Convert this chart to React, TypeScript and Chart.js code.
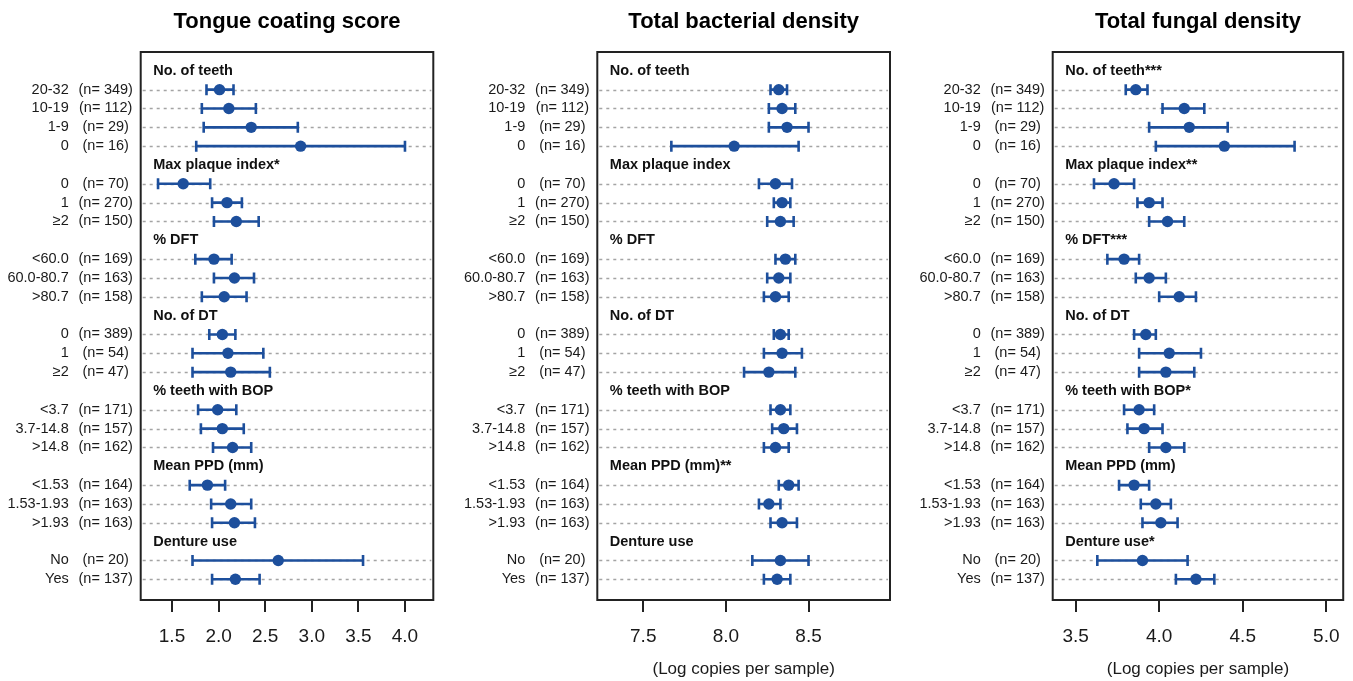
import React, { useEffect, useRef } from 'react';
import { Chart, registerables } from 'chart.js';

Chart.register(...registerables);

// ---------- data ----------
const groupSizes = [4, 3, 3, 3, 3, 3, 2];

const categories = [
  '20-32', '10-19', '1-9', '0',
  '0', '1', '≥2',
  '<60.0', '60.0-80.7', '>80.7',
  '0', '1', '≥2',
  '<3.7', '3.7-14.8', '>14.8',
  '<1.53', '1.53-1.93', '>1.93',
  'No', 'Yes',
];

const counts = [
  349, 112, 29, 16,
  70, 270, 150,
  169, 163, 158,
  389, 54, 47,
  171, 157, 162,
  164, 163, 163,
  20, 137,
];

const tongueHeaders = ['No. of teeth', 'Max plaque index*', '% DFT', 'No. of DT', '% teeth with BOP', 'Mean PPD (mm)', 'Denture use'];
const tongueMean = [2.01, 2.11, 2.35, 2.88, 1.62, 2.09, 2.19, 1.95, 2.17, 2.06, 2.04, 2.10, 2.13, 1.99, 2.04, 2.15, 1.88, 2.13, 2.17, 2.64, 2.18];
const tongueLower = [1.87, 1.82, 1.84, 1.76, 1.35, 1.93, 1.95, 1.75, 1.95, 1.82, 1.90, 1.72, 1.72, 1.78, 1.81, 1.94, 1.69, 1.92, 1.93, 1.72, 1.93];
const tongueUpper = [2.16, 2.40, 2.85, 4.00, 1.91, 2.25, 2.43, 2.14, 2.38, 2.30, 2.18, 2.48, 2.55, 2.19, 2.27, 2.35, 2.07, 2.35, 2.39, 3.55, 2.44];
const tongueTicks = [1.5, 2.0, 2.5, 3.0, 3.5, 4.0];

const bactHeaders = ['No. of teeth', 'Max plaque index', '% DFT', 'No. of DT', '% teeth with BOP', 'Mean PPD (mm)**', 'Denture use'];
const bactMean = [8.32, 8.34, 8.37, 8.05, 8.30, 8.34, 8.33, 8.36, 8.32, 8.30, 8.33, 8.34, 8.26, 8.33, 8.35, 8.30, 8.38, 8.26, 8.34, 8.33, 8.31];
const bactLower = [8.27, 8.26, 8.26, 7.67, 8.20, 8.29, 8.25, 8.30, 8.25, 8.23, 8.29, 8.23, 8.11, 8.27, 8.28, 8.23, 8.32, 8.20, 8.27, 8.16, 8.23];
const bactUpper = [8.37, 8.42, 8.50, 8.44, 8.40, 8.39, 8.41, 8.42, 8.39, 8.38, 8.38, 8.46, 8.42, 8.39, 8.43, 8.38, 8.44, 8.33, 8.43, 8.50, 8.39];
const bactTicks = [7.5, 8.0, 8.5];

const fungHeaders = ['No. of teeth***', 'Max plaque index**', '% DFT***', 'No. of DT', '% teeth with BOP*', 'Mean PPD (mm)', 'Denture use*'];
const fungMean = [3.86, 4.15, 4.18, 4.39, 3.73, 3.94, 4.05, 3.79, 3.94, 4.12, 3.92, 4.06, 4.04, 3.88, 3.91, 4.04, 3.85, 3.98, 4.01, 3.90, 4.22];
const fungLower = [3.80, 4.02, 3.94, 3.98, 3.61, 3.87, 3.94, 3.69, 3.86, 4.00, 3.85, 3.88, 3.88, 3.79, 3.81, 3.94, 3.76, 3.89, 3.90, 3.63, 4.10];
const fungUpper = [3.93, 4.27, 4.41, 4.81, 3.85, 4.02, 4.15, 3.88, 4.04, 4.22, 3.98, 4.25, 4.21, 3.97, 4.02, 4.15, 3.94, 4.07, 4.11, 4.17, 4.33];
const fungTicks = [3.5, 4.0, 4.5, 5.0];

const panelTitles = ['Tongue coating score', 'Total bacterial density', 'Total fungal density'];
const axisTitles = ['', '(Log copies per sample)', '(Log copies per sample)'];

// ---------- layout / style ----------
const BLUE = '#1d4f9c';
const INK = '#222222';
const FONT = '"Liberation Sans", Arial, Helvetica, sans-serif';

// slot indices: each group has a header slot followed by its rows
const headerSlots: number[] = [];
const rowSlots: number[] = [];
{
  let s = 0;
  groupSizes.forEach((n) => {
    headerSlots.push(s);
    s += 1;
    for (let k = 0; k < n; k++) {
      rowSlots.push(s);
      s += 1;
    }
  });
}

type PanelDef = {
  title: string;
  axisTitle: string;
  headers: string[];
  mean: number[];
  lower: number[];
  upper: number[];
  ticks: number[];
  xmin: number;
  xmax: number;
  canvasLeft: number;
  canvasWidth: number;
  padLeft: number;
  padRight: number;
};

const panels: PanelDef[] = [
  {
    title: panelTitles[0], axisTitle: axisTitles[0], headers: tongueHeaders,
    mean: tongueMean, lower: tongueLower, upper: tongueUpper, ticks: tongueTicks,
    xmin: 1.164, xmax: 4.304, canvasLeft: 0, canvasWidth: 440, padLeft: 140.7, padRight: 6.7,
  },
  {
    title: panelTitles[1], axisTitle: axisTitles[1], headers: bactHeaders,
    mean: bactMean, lower: bactLower, upper: bactUpper, ticks: bactTicks,
    xmin: 7.222, xmax: 8.993, canvasLeft: 440, canvasWidth: 460, padLeft: 157.3, padRight: 10,
  },
  {
    title: panelTitles[2], axisTitle: axisTitles[2], headers: fungHeaders,
    mean: fungMean, lower: fungLower, upper: fungUpper, ticks: fungTicks,
    xmin: 3.363, xmax: 5.101, canvasLeft: 900, canvasWidth: 453, padLeft: 152.7, padRight: 8,
  },
];

function makeForestPlugin(p: PanelDef) {
  return {
    id: 'forest',
    beforeDatasetsDraw(chart: any) {
      const { ctx, chartArea: a, scales } = chart;
      const x = scales.x;
      const y = scales.y;
      ctx.save();
      // dashed row guides
      ctx.strokeStyle = '#a4a4a4';
      ctx.lineWidth = 1.3;
      ctx.setLineDash([3, 4]);
      rowSlots.forEach((s) => {
        const py = Math.round(y.getPixelForValue(s)) + 0.5;
        ctx.beginPath();
        ctx.moveTo(a.left + 2, py);
        ctx.lineTo(a.right - 2, py);
        ctx.stroke();
      });
      ctx.setLineDash([]);
      // confidence intervals
      ctx.strokeStyle = BLUE;
      ctx.lineWidth = 2.6;
      p.lower.forEach((lo, i) => {
        const py = y.getPixelForValue(rowSlots[i]);
        const x1 = x.getPixelForValue(lo);
        const x2 = x.getPixelForValue(p.upper[i]);
        ctx.beginPath();
        ctx.moveTo(x1, py);
        ctx.lineTo(x2, py);
        ctx.moveTo(x1, py - 5.5);
        ctx.lineTo(x1, py + 5.5);
        ctx.moveTo(x2, py - 5.5);
        ctx.lineTo(x2, py + 5.5);
        ctx.stroke();
      });
      ctx.restore();
    },
    afterDraw(chart: any) {
      const { ctx, chartArea: a, scales } = chart;
      const y = scales.y;
      ctx.save();
      // frame
      ctx.strokeStyle = INK;
      ctx.lineWidth = 2;
      ctx.strokeRect(a.left, a.top, a.right - a.left, a.bottom - a.top);
      // group headers
      ctx.fillStyle = '#111';
      ctx.textBaseline = 'middle';
      ctx.textAlign = 'left';
      ctx.font = `bold 14.5px ${FONT}`;
      p.headers.forEach((h, g) => {
        ctx.fillText(h, a.left + 12.5, y.getPixelForValue(headerSlots[g]));
      });
      // row labels
      ctx.font = `14.5px ${FONT}`;
      ctx.fillStyle = '#1a1a1a';
      categories.forEach((c, i) => {
        const py = y.getPixelForValue(rowSlots[i]);
        ctx.textAlign = 'right';
        ctx.fillText(c, a.left - 72, py);
        ctx.textAlign = 'center';
        ctx.fillText(`(n= ${counts[i]})`, a.left - 35, py);
      });
      // panel title
      ctx.font = `bold 22px ${FONT}`;
      ctx.fillStyle = '#000';
      ctx.textAlign = 'center';
      ctx.fillText(p.title, (a.left + a.right) / 2, 22);
      ctx.restore();
    },
  };
}

function Panel({ p }: { p: PanelDef }) {
  const ref = useRef<HTMLCanvasElement | null>(null);
  useEffect(() => {
    if (!ref.current) return;
    const chart = new Chart(ref.current, {
      type: 'scatter',
      data: {
        datasets: [
          {
            data: p.mean.map((m, i) => ({ x: m, y: rowSlots[i] })),
            backgroundColor: BLUE,
            borderColor: BLUE,
            borderWidth: 0,
            pointRadius: 5.7,
            pointHoverRadius: 5.7,
            showLine: false,
            clip: false as any,
          },
        ],
      },
      options: {
        animation: false,
        responsive: false,
        events: [],
        layout: { padding: { left: p.padLeft, right: p.padRight, top: 52, bottom: 0 } },
        plugins: {
          legend: { display: false },
          tooltip: { enabled: false },
          title: { display: false },
        },
        scales: {
          x: {
            type: 'linear',
            position: 'bottom',
            min: p.xmin,
            max: p.xmax,
            afterBuildTicks: (s: any) => {
              s.ticks = p.ticks.map((v) => ({ value: v }));
            },
            afterFit: (s: any) => {
              s.height = 81;
            },
            grid: {
              drawOnChartArea: false,
              drawTicks: true,
              tickLength: 12,
              tickWidth: 2,
              tickColor: INK,
              color: INK,
              lineWidth: 2,
            },
            border: { display: false },
            ticks: {
              font: { size: 19, family: FONT },
              color: '#1a1a1a',
              padding: 13,
              maxRotation: 0,
              autoSkip: false,
              callback: (v: any) => Number(v).toFixed(1),
            },
            title: {
              display: !!p.axisTitle,
              text: p.axisTitle,
              font: { size: 17, family: FONT },
              color: '#1a1a1a',
              padding: { top: 0, bottom: 1 },
            },
          },
          y: {
            type: 'linear',
            min: -1,
            max: 28.1,
            reverse: true,
            display: false,
          },
        },
      },
      plugins: [makeForestPlugin(p)],
    } as any);
    return () => chart.destroy();
  }, [p]);
  return (
    <canvas
      ref={ref}
      width={p.canvasWidth}
      height={681}
      style={{ position: 'absolute', left: p.canvasLeft, top: 0, width: p.canvasWidth, height: 681 }}
    />
  );
}

export default function App() {
  Chart.defaults.font.family = FONT;
  return (
    <div style={{ position: 'absolute', left: 0, top: 0, width: 1353, height: 681, background: '#fff' }}>
      {panels.map((p, i) => (
        <Panel key={i} p={p} />
      ))}
    </div>
  );
}
